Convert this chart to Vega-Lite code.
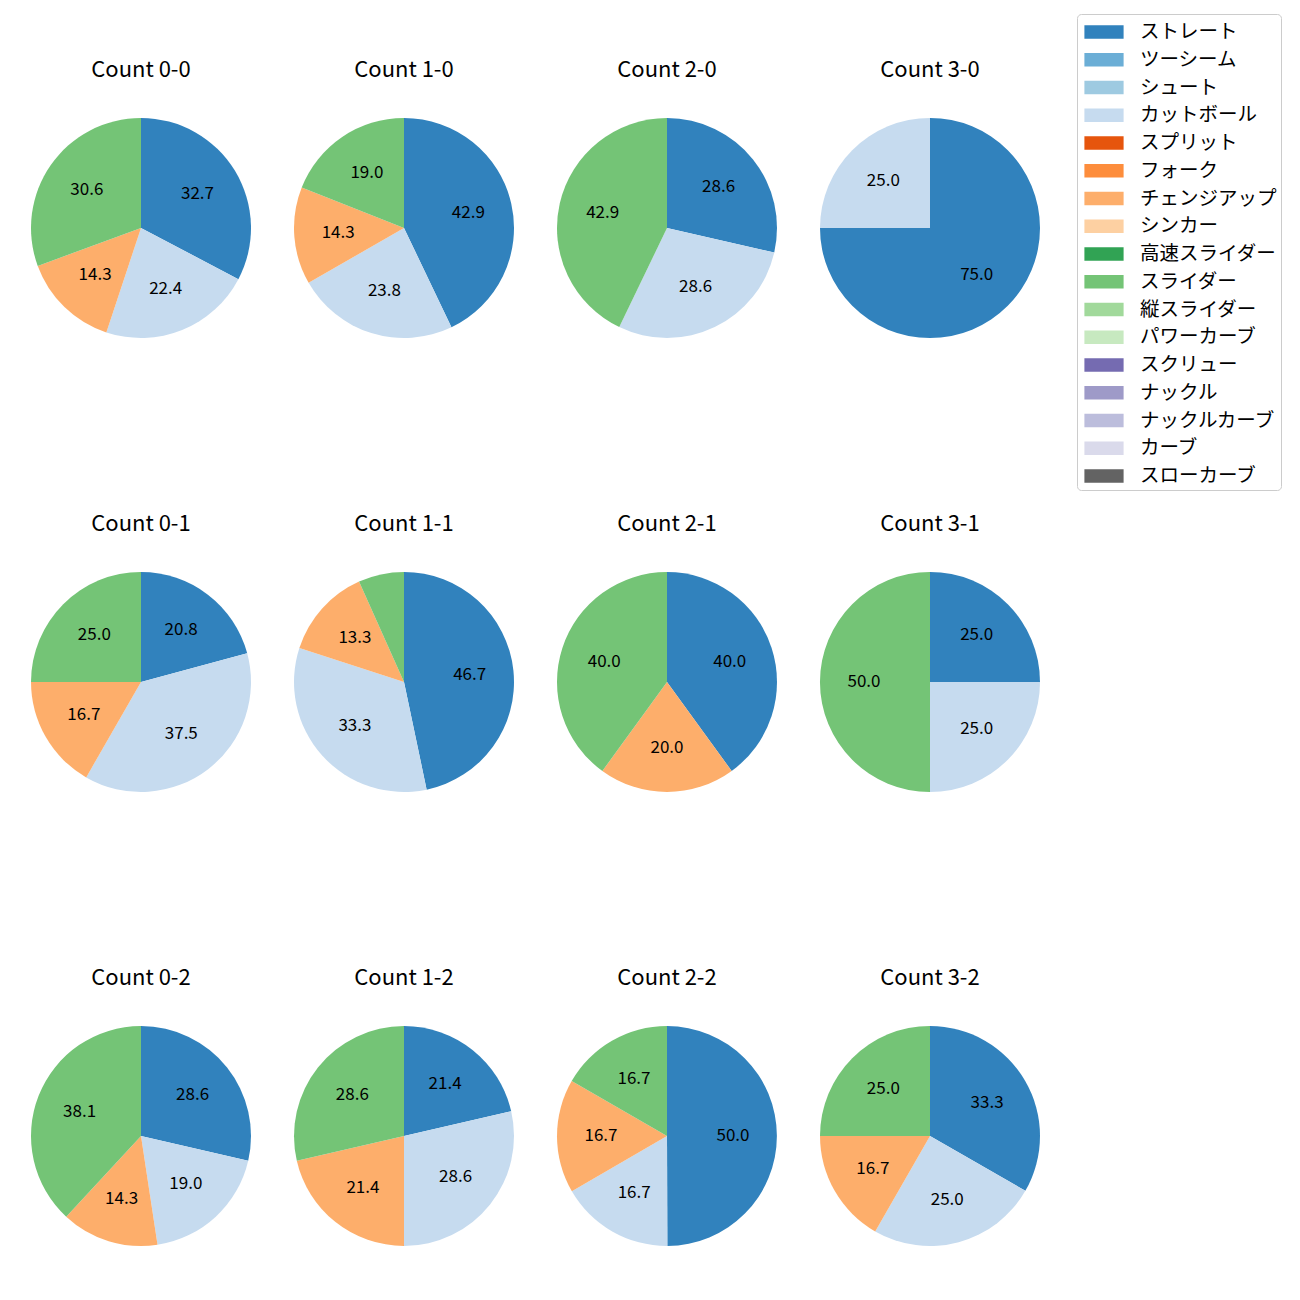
{
  "$schema": "https://vega.github.io/schema/vega-lite/v6.json",
  "background": "white",
  "padding": {"left": 30, "top": 13, "right": 10, "bottom": 10},
  "data": {"values": [
    {"count": "Count 0-0", "pitch": "ストレート", "k": 0, "pct": 32.7},
    {"count": "Count 0-0", "pitch": "カットボール", "k": 3, "pct": 22.4},
    {"count": "Count 0-0", "pitch": "チェンジアップ", "k": 6, "pct": 14.3},
    {"count": "Count 0-0", "pitch": "スライダー", "k": 9, "pct": 30.6},
    {"count": "Count 1-0", "pitch": "ストレート", "k": 0, "pct": 42.9},
    {"count": "Count 1-0", "pitch": "カットボール", "k": 3, "pct": 23.8},
    {"count": "Count 1-0", "pitch": "チェンジアップ", "k": 6, "pct": 14.3},
    {"count": "Count 1-0", "pitch": "スライダー", "k": 9, "pct": 19.0},
    {"count": "Count 2-0", "pitch": "ストレート", "k": 0, "pct": 28.6},
    {"count": "Count 2-0", "pitch": "カットボール", "k": 3, "pct": 28.6},
    {"count": "Count 2-0", "pitch": "スライダー", "k": 9, "pct": 42.9},
    {"count": "Count 3-0", "pitch": "ストレート", "k": 0, "pct": 75.0},
    {"count": "Count 3-0", "pitch": "カットボール", "k": 3, "pct": 25.0},
    {"count": "Count 0-1", "pitch": "ストレート", "k": 0, "pct": 20.8},
    {"count": "Count 0-1", "pitch": "カットボール", "k": 3, "pct": 37.5},
    {"count": "Count 0-1", "pitch": "チェンジアップ", "k": 6, "pct": 16.7},
    {"count": "Count 0-1", "pitch": "スライダー", "k": 9, "pct": 25.0},
    {"count": "Count 1-1", "pitch": "ストレート", "k": 0, "pct": 46.7},
    {"count": "Count 1-1", "pitch": "カットボール", "k": 3, "pct": 33.3},
    {"count": "Count 1-1", "pitch": "チェンジアップ", "k": 6, "pct": 13.3},
    {"count": "Count 1-1", "pitch": "スライダー", "k": 9, "pct": 6.7},
    {"count": "Count 2-1", "pitch": "ストレート", "k": 0, "pct": 40.0},
    {"count": "Count 2-1", "pitch": "チェンジアップ", "k": 6, "pct": 20.0},
    {"count": "Count 2-1", "pitch": "スライダー", "k": 9, "pct": 40.0},
    {"count": "Count 3-1", "pitch": "ストレート", "k": 0, "pct": 25.0},
    {"count": "Count 3-1", "pitch": "カットボール", "k": 3, "pct": 25.0},
    {"count": "Count 3-1", "pitch": "スライダー", "k": 9, "pct": 50.0},
    {"count": "Count 0-2", "pitch": "ストレート", "k": 0, "pct": 28.6},
    {"count": "Count 0-2", "pitch": "カットボール", "k": 3, "pct": 19.0},
    {"count": "Count 0-2", "pitch": "チェンジアップ", "k": 6, "pct": 14.3},
    {"count": "Count 0-2", "pitch": "スライダー", "k": 9, "pct": 38.1},
    {"count": "Count 1-2", "pitch": "ストレート", "k": 0, "pct": 21.4},
    {"count": "Count 1-2", "pitch": "カットボール", "k": 3, "pct": 28.6},
    {"count": "Count 1-2", "pitch": "チェンジアップ", "k": 6, "pct": 21.4},
    {"count": "Count 1-2", "pitch": "スライダー", "k": 9, "pct": 28.6},
    {"count": "Count 2-2", "pitch": "ストレート", "k": 0, "pct": 50.0},
    {"count": "Count 2-2", "pitch": "カットボール", "k": 3, "pct": 16.7},
    {"count": "Count 2-2", "pitch": "チェンジアップ", "k": 6, "pct": 16.7},
    {"count": "Count 2-2", "pitch": "スライダー", "k": 9, "pct": 16.7},
    {"count": "Count 3-2", "pitch": "ストレート", "k": 0, "pct": 33.3},
    {"count": "Count 3-2", "pitch": "カットボール", "k": 3, "pct": 25.0},
    {"count": "Count 3-2", "pitch": "チェンジアップ", "k": 6, "pct": 16.7},
    {"count": "Count 3-2", "pitch": "スライダー", "k": 9, "pct": 25.0}
  ]},
  "facet": {
    "field": "count",
    "type": "nominal",
    "sort": ["Count 0-0", "Count 1-0", "Count 2-0", "Count 3-0", "Count 0-1", "Count 1-1", "Count 2-1", "Count 3-1", "Count 0-2", "Count 1-2", "Count 2-2", "Count 3-2"],
    "header": {"title": null, "labelFontSize": 22, "labelFont": "Noto Sans CJK JP", "labelColor": "black", "labelPadding": 35}
  },
  "columns": 4,
  "spacing": {"column": 41, "row": 174},
  "spec": {
    "width": 222,
    "height": 222,
    "layer": [
      {
        "mark": {"type": "arc", "outerRadius": 110, "stroke": null},
        "encoding": {
          "theta": {"field": "pct", "type": "quantitative", "stack": true},
          "order": {"field": "k", "type": "quantitative", "sort": "ascending"},
          "color": {
            "field": "pitch", "type": "nominal",
            "scale": {
              "domain": ["ストレート", "ツーシーム", "シュート", "カットボール", "スプリット", "フォーク", "チェンジアップ", "シンカー", "高速スライダー", "スライダー", "縦スライダー", "パワーカーブ", "スクリュー", "ナックル", "ナックルカーブ", "カーブ", "スローカーブ"],
              "range": ["#3182bd", "#6baed6", "#9ecae1", "#c6dbef", "#e6550d", "#fd8d3c", "#fdae6b", "#fdd0a2", "#31a354", "#74c476", "#a1d99b", "#c7e9c0", "#756bb1", "#9e9ac8", "#bcbddc", "#dadaeb", "#636363"]
            },
            "legend": {
              "title": null,
              "orient": "none",
              "legendX": 1047,
              "legendY": -103,
              "labelFont": "Noto Sans CJK JP",
              "labelFontSize": 19.5,
              "labelColor": "black",
              "symbolType": "M-1.4,-0.48L1.4,-0.48L1.4,0.48L-1.4,0.48Z",
              "symbolSize": 784,
              "symbolOffset": 9,
              "symbolStrokeWidth": 0,
              "symbolOpacity": 1,
              "rowPadding": 3.75,
              "labelOffset": 22,
              "padding": 4,
              "fillColor": "white",
              "strokeColor": "#cccccc",
              "cornerRadius": 4
            }
          }
        }
      },
      {
        "transform": [{"filter": "datum.pct >= 10"}],
        "mark": {"type": "text", "radius": 66, "font": "Noto Sans CJK JP", "fontSize": 17, "color": "black"},
        "encoding": {
          "theta": {"field": "pct", "type": "quantitative", "stack": true},
          "order": {"field": "k", "type": "quantitative", "sort": "ascending"},
          "text": {"field": "pct", "type": "quantitative", "format": ".1f"}
        }
      }
    ]
  },
  "resolve": {"scale": {"theta": "independent"}},
  "config": {"view": {"stroke": null}}
}
